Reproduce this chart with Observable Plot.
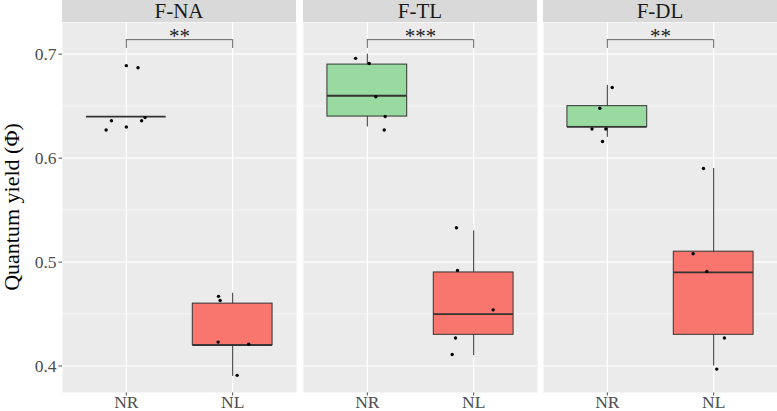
<!DOCTYPE html>
<html><head><meta charset="utf-8">
<script src="https://cdn.jsdelivr.net/npm/d3@7"></script>
<script src="https://cdn.jsdelivr.net/npm/@observablehq/plot@0.6"></script>
<style>
html,body{margin:0;padding:0;background:#fff;}
#chart{position:relative;width:777px;height:411px;font-family:"Liberation Serif","Times New Roman",serif;overflow:hidden;}
.strip{position:absolute;top:0;height:22px;background:#D9D9D9;color:#1A1A1A;font-size:21px;line-height:22px;text-align:center;white-space:nowrap;}
.panel{position:absolute;top:0;}
#ytitle{position:absolute;left:12px;top:207px;transform:translate(-50%,-50%) rotate(-90deg);font-size:22px;color:#000;white-space:nowrap;line-height:22px;}
</style></head>
<body><div id="chart"><div id="ytitle">Quantum yield (Φ)</div></div>
<script>
// ---- data ----
const panels = ["F-NA", "F-TL", "F-DL"];
const groups = ["NR", "NL"];
const groupColors = ["#98DA9F", "#F8766D"];

// box statistics (one entry per panel x group)
const boxPanel = ["F-NA", "F-NA", "F-TL", "F-TL", "F-DL", "F-DL"];
const boxGroup = ["NR", "NL", "NR", "NL", "NR", "NL"];
const boxLow   = [0.64, 0.39, 0.63, 0.41, 0.62, 0.40];
const boxQ1    = [0.64, 0.42, 0.64, 0.43, 0.63, 0.43];
const boxMed   = [0.64, 0.42, 0.66, 0.45, 0.63, 0.49];
const boxQ3    = [0.64, 0.46, 0.69, 0.49, 0.65, 0.51];
const boxHigh  = [0.64, 0.47, 0.70, 0.53, 0.67, 0.59];

// jittered observations
const ptPanel = ["F-NA","F-NA","F-NA","F-NA","F-NA","F-NA","F-NA",
                 "F-NA","F-NA","F-NA","F-NA","F-NA",
                 "F-TL","F-TL","F-TL","F-TL","F-TL",
                 "F-TL","F-TL","F-TL","F-TL","F-TL",
                 "F-DL","F-DL","F-DL","F-DL","F-DL",
                 "F-DL","F-DL","F-DL","F-DL","F-DL"];
const ptGroup = ["NR","NR","NR","NR","NR","NR","NR",
                 "NL","NL","NL","NL","NL",
                 "NR","NR","NR","NR","NR",
                 "NL","NL","NL","NL","NL",
                 "NR","NR","NR","NR","NR",
                 "NL","NL","NL","NL","NL"];
const ptValue = [0.689, 0.687, 0.636, 0.636, 0.639, 0.627, 0.630,
                 0.467, 0.463, 0.423, 0.421, 0.391,
                 0.696, 0.691, 0.659, 0.640, 0.627,
                 0.533, 0.492, 0.454, 0.427, 0.411,
                 0.668, 0.648, 0.628, 0.628, 0.616,
                 0.590, 0.508, 0.491, 0.427, 0.397];
const ptJitter = [0.00, 0.11, -0.14, 0.144, 0.176, -0.19, 0.00,
                  -0.133, -0.118, -0.137, 0.151, 0.042,
                  -0.11, 0.018, 0.08, 0.168, 0.159,
                  -0.162, -0.152, 0.183, -0.171, -0.202,
                  0.046, -0.07, -0.144, -0.014, -0.045,
                  -0.096, -0.193, -0.065, 0.101, 0.029];

// significance brackets
const sigPanel = ["F-NA", "F-TL", "F-DL"];
const sigFrom  = ["NR", "NR", "NR"];
const sigTo    = ["NL", "NL", "NL"];
const sigLabel = ["**", "***", "**"];
const sigY     = [0.714, 0.714, 0.714];
const sigTip   = [0.7055, 0.7055, 0.7055];

// axis ticks
const yTicks = [0.4, 0.5, 0.6, 0.7];
const yMinor = [0.45, 0.55, 0.65];
const yDomain = [0.3745, 0.7305];

// ---- build tables ----
const pos = g => groups.indexOf(g) + 1;
const boxes = boxPanel.map((p, i) => ({panel: p, group: boxGroup[i], pos: pos(boxGroup[i]),
  low: boxLow[i], q1: boxQ1[i], med: boxMed[i], q3: boxQ3[i], high: boxHigh[i],
  fill: groupColors[groups.indexOf(boxGroup[i])]}));
const points = ptPanel.map((p, i) => ({panel: p, group: ptGroup[i], x: pos(ptGroup[i]) + ptJitter[i], value: ptValue[i]}));
const sigs = sigPanel.map((p, i) => ({panel: p, x1: pos(sigFrom[i]), x2: pos(sigTo[i]), y: sigY[i], tip: sigTip[i], label: sigLabel[i]}));
const sigTips = sigs.flatMap(s => [{panel: s.panel, x: s.x1, y1: s.tip, y2: s.y}, {panel: s.panel, x: s.x2, y1: s.tip, y2: s.y}]);

const halfBox = 0.375;
const panelWidth = 234;
const panelLeft = [62, 303, 543];
const chart = document.getElementById("chart");

panels.forEach((name, i) => {
  const first = i === 0;
  const ml = first ? 62 : 0;
  const bx = boxes.filter(d => d.panel === name);
  const pts = points.filter(d => d.panel === name);
  const sg = sigs.filter(d => d.panel === name);
  const st = sigTips.filter(d => d.panel === name);
  const svg = Plot.plot({
    width: ml + panelWidth,
    height: 411,
    marginLeft: ml, marginRight: 0, marginTop: 22, marginBottom: 19,
    style: {fontFamily: '"Liberation Serif","Times New Roman",serif', fontSize: "17.5px", color: "#4D4D4D", background: "transparent", overflow: "visible"},
    x: {domain: [0.4, 2.6], ticks: [1, 2], tickFormat: d => groups[d - 1], tickSize: 3.5, tickPadding: 0, label: null},
    y: {domain: yDomain, ticks: yTicks, tickFormat: d3.format(".1f"), tickSize: 3.5, tickPadding: 2.5, label: null, axis: first ? "left" : null},
    color: {type: "identity"},
    marks: [
      Plot.frame({fill: "#EBEBEB", stroke: "none"}),
      Plot.ruleY(yMinor, {stroke: "white", strokeWidth: 0.6}),
      Plot.ruleY(yTicks, {stroke: "white", strokeWidth: 1.2}),
      Plot.ruleX([1, 2], {stroke: "white", strokeWidth: 1.2}),
      Plot.ruleX(bx, {x: "pos", y1: "low", y2: "high", stroke: "#333333", strokeWidth: 1}),
      Plot.rect(bx, {x1: d => d.pos - halfBox, x2: d => d.pos + halfBox, y1: "q1", y2: "q3", fill: "fill", stroke: "#333333", strokeWidth: 1}),
      Plot.ruleY(bx, {x1: d => d.pos - halfBox, x2: d => d.pos + halfBox, y: "med", stroke: "#333333", strokeWidth: 1.8}),
      Plot.dot(pts, {x: "x", y: "value", r: 1.7, fill: "black", stroke: "none"}),
      Plot.ruleY(sg, {x1: "x1", x2: "x2", y: "y", stroke: "#666666", strokeWidth: 1}),
      Plot.ruleX(st, {x: "x", y1: "y1", y2: "y2", stroke: "#666666", strokeWidth: 1}),
      Plot.text(sg, {x: d => (d.x1 + d.x2) / 2, y: "y", text: "label", fontSize: 21, dy: -3, fill: "#1A1A1A", fontFamily: '"Liberation Serif",serif'})
    ]
  });
  svg.classList.add("panel");
  svg.style.left = (panelLeft[i] - ml) + "px";
  chart.appendChild(svg);
  const strip = document.createElement("div");
  strip.className = "strip";
  strip.style.left = panelLeft[i] + "px";
  strip.style.width = panelWidth + "px";
  strip.textContent = name;
  chart.appendChild(strip);
});
</script>
</body></html>
